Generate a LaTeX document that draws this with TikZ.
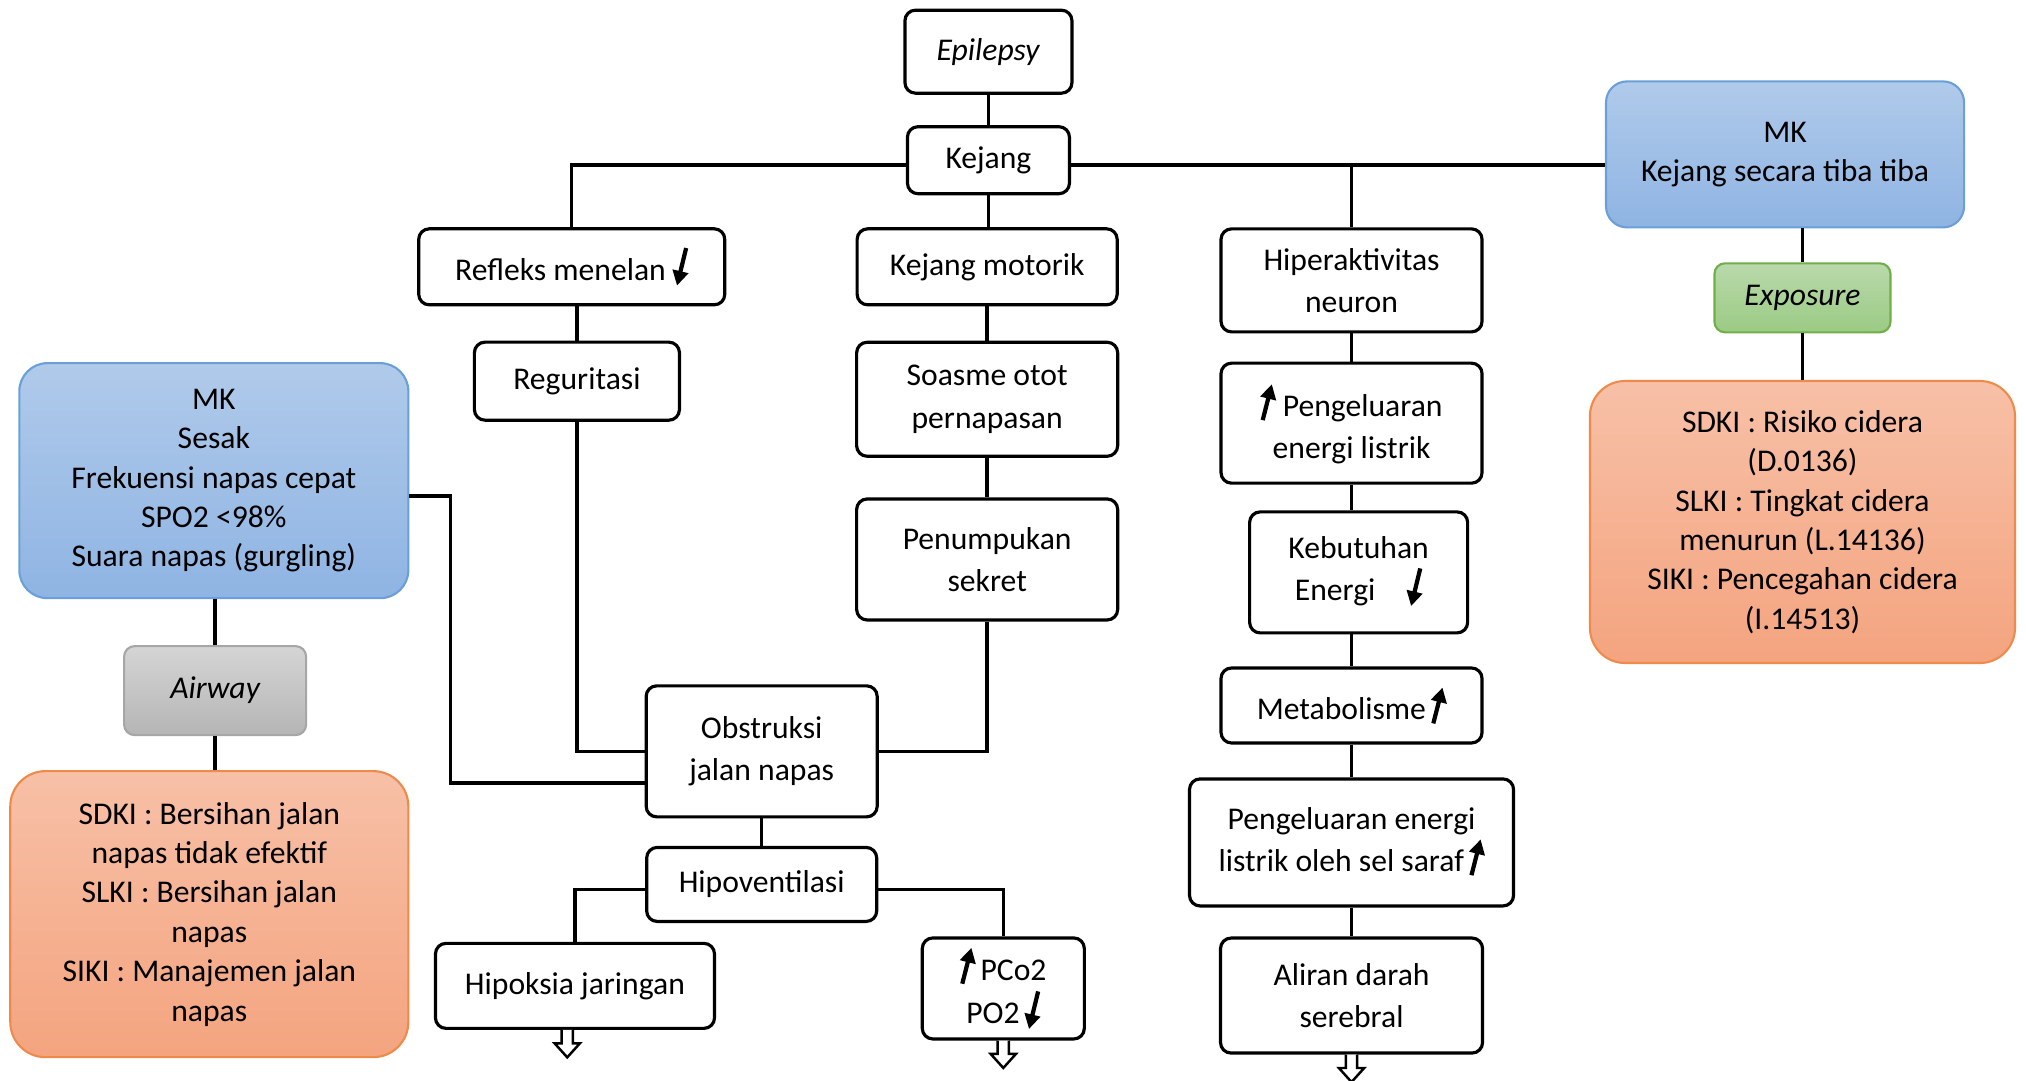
\documentclass[tikz,border=0pt]{standalone}
\usepackage{fontspec}
\setmainfont{Carlito}
\usepackage{xcolor}
\usepackage{tikz}
\usetikzlibrary{arrows.meta}
\definecolor{mktop}{HTML}{B0CAEA}
\definecolor{mkbot}{HTML}{8FB4E3}
\definecolor{mkline}{HTML}{6A9FD8}
\definecolor{extop}{HTML}{B9D9AB}
\definecolor{exbot}{HTML}{9BCB84}
\definecolor{exline}{HTML}{71AE48}
\definecolor{awtop}{HTML}{D5D5D5}
\definecolor{awbot}{HTML}{B5B5B5}
\definecolor{awline}{HTML}{A6A6A6}
\definecolor{sdtop}{HTML}{F7C0A7}
\definecolor{sdbot}{HTML}{F4A47F}
\definecolor{sdline}{HTML}{EE8A4A}
\newcommand{\naik}{\tikz[baseline=0pt]\draw[line width=1.2pt,-{Triangle[length=4.2pt,width=4.4pt]}] (0pt,-1pt) -- (2.6pt,9.2pt);}
\newcommand{\turun}{\tikz[baseline=0pt]\draw[line width=1.2pt,-{Triangle[length=4.2pt,width=4.4pt]}] (2.6pt,9.2pt) -- (0pt,-1.5pt);}

\begin{document}
\begin{tikzpicture}[
  x=0.1292mm, y=-0.1292mm,
  box/.style={draw, line width=0.9pt, rounded corners=3pt, align=center, inner sep=0pt, font=\fontsize{9}{12}\selectfont},
  mk/.style={draw=mkline, line width=0.6pt, top color=mktop, bottom color=mkbot, rounded corners=8pt, align=center, inner sep=0pt, font=\fontsize{9}{11.2}\selectfont},
  tag/.style={draw=#1line, line width=0.6pt, top color=#1top, bottom color=#1bot, rounded corners=3pt, inner sep=0pt, font=\fontsize{9}{11.2}\selectfont\itshape},
  sd/.style={draw=sdline, line width=0.6pt, top color=sdtop, bottom color=sdbot, rounded corners=10pt, align=center, inner sep=0pt, font=\fontsize{9}{11.2}\selectfont},
  con/.style={line width=0.95pt},
  hollow/.pic={\draw[line width=0.7pt, fill=white] (-1.6pt,0pt) -- (-1.6pt,-3.8pt) -- (-3.6pt,-3.8pt) -- (0pt,-7.8pt) -- (3.6pt,-3.8pt) -- (1.6pt,-3.8pt) -- (1.6pt,0pt);},
]
\useasboundingbox (0,0) rectangle (1568,836);
\node[box, minimum width=16.7mm, minimum height=8.3mm] (ep) at (765,40) {\textit{Epilepsy}};
\node[box, minimum width=16.2mm, minimum height=6.7mm] (kj) at (765,124) {Kejang};
\node[box, minimum width=30.6mm, minimum height=7.6mm] (rm) at (442.5,206.5) {Refleks menelan \turun};
\node[box, minimum width=26mm, minimum height=7.6mm] (km) at (764,206.5) {Kejang motorik};
\node[box, minimum width=26.1mm, minimum height=10.3mm] (hn) at (1046,217) {Hiperaktivitas\\neuron};
\node[mk, minimum width=35.8mm, minimum height=14.6mm, rounded corners=6pt] (mk1) at (1381.5,119.5) {MK\\Kejang secara tiba tiba};
\node[tag=ex, minimum width=17.6mm, minimum height=6.9mm] (exp) at (1395,230.5) {Exposure};
\node[sd, minimum width=42.5mm, minimum height=28.2mm] (sdr) at (1395,404) {SDKI : Risiko cidera\\(D.0136)\\SLKI : Tingkat cidera\\menurun (L.14136)\\SIKI : Pencegahan cidera\\(I.14513)};
\node[box, minimum width=20.5mm, minimum height=7.8mm] (rg) at (446.5,295) {Reguritasi};
\node[box, minimum width=26.1mm, minimum height=11.4mm] (so) at (764,309) {Soasme otot\\pernapasan};
\node[box, minimum width=26.1mm, minimum height=12.1mm] (ps) at (764,433) {Penumpukan\\sekret};
\node[box, minimum width=23.1mm, minimum height=13.1mm] (ob) at (589.5,581.5) {Obstruksi\\jalan napas};
\node[mk, minimum width=38.9mm, minimum height=23.5mm] (mk2) at (165.5,372) {MK\\Sesak\\Frekuensi napas cepat\\SPO2 <98\%\\Suara napas (gurgling)};
\node[tag=aw, minimum width=18.2mm, minimum height=8.9mm] (aw) at (166.5,534.5) {Airway};
\node[sd, minimum width=39.8mm, minimum height=28.6mm] (sdl) at (162,707.5) {SDKI : Bersihan jalan\\napas tidak efektif\\SLKI : Bersihan jalan\\napas\\SIKI : Manajemen jalan\\napas};
\node[box, minimum width=23mm, minimum height=7.4mm] (hv) at (589.5,684.5) {Hipoventilasi};
\node[box, minimum width=27.9mm, minimum height=8.5mm] (hj) at (445,763) {Hipoksia jaringan};
\node[box, minimum width=16.2mm, minimum height=10.1mm, font=\fontsize{9}{11}\selectfont] (pc) at (776.5,765) {\naik\,PCo2\\PO2\,\turun};
\node[box, minimum width=26.1mm, minimum height=12mm] (pel) at (1046,327.5) {\naik\ Pengeluaran\\energi listrik};
\node[box, minimum width=21.8mm, minimum height=12.1mm] (ke) at (1051.5,443) {Kebutuhan\\Energi\quad\turun};
\node[box, minimum width=26.1mm, minimum height=7.5mm] (me) at (1046,546) {Metabolisme\,\naik};
\node[box, minimum width=32.4mm, minimum height=12.7mm] (pes) at (1046,652) {Pengeluaran energi\\listrik oleh sel saraf\,\naik};
\node[box, minimum width=26.2mm, minimum height=11.5mm] (ad) at (1046,770.5) {Aliran darah\\serebral};
\draw[con] (ep) -- (kj);
\draw[con] ([yshift=-1.4pt]kj.west) -| (rm);
\draw[con] ([yshift=-1.4pt]kj.east) -- ([yshift=-1.4pt]kj.east -| mk1.west);
\draw[con] ([yshift=-1.4pt]kj.east) -| (hn.north);
\draw[con] (kj.south) -- (kj.south |- km.north);
\draw[con] (exp.north |- mk1.south) -- (exp);
\draw[con] (exp) -- (sdr);
\draw[con] (rg.north |- rm.south) -- (rg);
\draw[con] (rg) |- (ob);
\draw[con] (km) -- (so);
\draw[con] (so) -- (ps);
\draw[con] (ps) |- (ob);
\draw[con] ([yshift=-4.4pt]mk2.east) -- ++(32,0) |- ([yshift=-9pt]ob.west);
\draw[con] (aw.north |- mk2.south) -- (aw);
\draw[con] (aw) -- (aw.south |- sdl.north);
\draw[con] (ob) -- (hv);
\draw[con] ([yshift=-1.4pt]hv.west) -| (hj);
\draw[con] ([yshift=-1.4pt]hv.east) -| (pc);
\draw[con] (hn) -- (pel);
\draw[con] (pel.south) -- (pel.south |- ke.north);
\draw[con] (me.north |- ke.south) -- (me);
\draw[con] (me) -- (pes);
\draw[con] (pes) -- (ad);
\pic at ([xshift=-2.2pt]hj.south) {hollow};
\pic at (pc.south) {hollow};
\pic at (ad.south) {hollow};
\end{tikzpicture}
\end{document}
